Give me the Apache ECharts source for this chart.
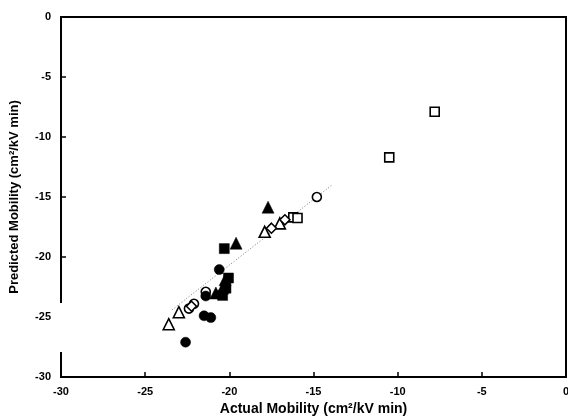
<!DOCTYPE html>
<html><head><meta charset="utf-8">
<script src="https://cdn.jsdelivr.net/npm/echarts@6/dist/echarts.min.js"></script>
<style>html,body{margin:0;padding:0;background:#fff}#c{width:568px;height:416px}</style>
</head><body><div id="c"></div>
<script>
// Data
const openSquares = [[-7.8,-7.9],[-10.5,-11.7],[-16.2,-16.7],[-15.95,-16.75]];
const openCircles = [[-14.8,-15.0],[-21.4,-22.9],[-22.4,-24.3],[-22.1,-23.9]];
const openTriangles = [[-23.6,-25.6],[-23.0,-24.6],[-17.9,-17.9],[-17.0,-17.2]];
const openDiamonds = [[-17.5,-17.6],[-16.7,-16.9],[-22.25,-24.1]];
const filledCircles = [[-22.6,-27.1],[-21.5,-24.9],[-21.1,-25.05],[-20.6,-21.05],[-21.4,-23.25]];
const filledTriangles = [[-17.7,-15.85],[-19.6,-18.85],[-20.4,-22.6],[-20.8,-23.0],[-20.25,-21.9]];
const filledSquares = [[-20.3,-19.3],[-20.05,-21.75],[-20.2,-22.6],[-20.4,-23.2]];
const fitLine = [[-23.4,-24.4],[-13.9,-14.0]];
const xTicks = [-30,-25,-20,-15,-10,-5,0];
const yTicks = [-30,-25,-20,-15,-10,-5,0];
const xTitle = 'Actual Mobility (cm²/kV min)';
const yTitle = 'Predicted Mobility (cm²/kV min)';

const chart = echarts.init(document.getElementById('c'));
const font = '"Liberation Sans", Arial, sans-serif';
function sc(name, data, symbol, filled, size) {
  return {
    name, type: 'scatter', data, symbol, symbolSize: size,
    itemStyle: filled ? {color:'#000', borderColor:'#000', borderWidth:0.5, opacity: 1}
                      : {color:'#fff', borderColor:'#000', borderWidth:1.6, opacity: 1},
    z: filled ? 4 : 3
  };
}
chart.setOption({
  animation: false,
  backgroundColor: '#fff',
  grid: {left: 61, right: 2, top: 17, bottom: 39, outerBoundsMode: 'none', containLabel: false,
         show: true, borderColor: '#000', borderWidth: 2, backgroundColor: 'transparent'},
  xAxis: {
    type: 'value', min: xTicks[0], max: xTicks[xTicks.length-1], interval: 5,
    name: xTitle, nameLocation: 'middle', nameGap: 22,
    nameTextStyle: {fontFamily: font, fontWeight: 'bold', fontSize: 14, color: '#000'},
    axisLine: {show: true, onZero: false, lineStyle: {color: '#000', width: 2}},
    axisTick: {show: true, inside: true, length: 5, lineStyle: {color: '#000', width: 1.5}},
    axisLabel: {fontFamily: font, fontWeight: 'bold', fontSize: 11, color: '#000', margin: 9,
      formatter: v => xTicks.includes(v) ? String(v) : ''},
    splitLine: {show: false}
  },
  yAxis: {
    type: 'value', min: yTicks[0], max: yTicks[yTicks.length-1], interval: 5,
    name: yTitle, nameLocation: 'middle', nameGap: 40, nameRotate: 90,
    nameTextStyle: {fontFamily: font, fontWeight: 'bold', fontSize: 13, color: '#000'},
    axisLine: {show: true, onZero: false, lineStyle: {color: '#000', width: 2}},
    axisTick: {show: true, inside: true, length: 5, lineStyle: {color: '#000', width: 1.5}},
    axisLabel: {fontFamily: font, fontWeight: 'bold', fontSize: 11, color: '#000', margin: 10,
      formatter: v => yTicks.includes(v) ? String(v) : ''},
    splitLine: {show: false}
  },
  series: [
    {type: 'line', data: fitLine, symbol: 'none', lineStyle: {color: '#777', width: 1, type: [1, 2]}, z: 2},
    sc('os', openSquares, 'rect', false, 9),
    sc('oc', openCircles, 'circle', false, 9),
    sc('ot', openTriangles, 'triangle', false, 11),
    sc('od', openDiamonds, 'diamond', false, 10),
    sc('fc', filledCircles, 'circle', true, 10),
    sc('ft', filledTriangles, 'triangle', true, 12),
    sc('fs', filledSquares, 'rect', true, 10)
  ],
  graphic: [
    {type: 'rect', shape: {x: 56, y: 303, width: 12, height: 49}, style: {fill: '#fff'}, z: 100}
  ]
});
</script></body></html>
